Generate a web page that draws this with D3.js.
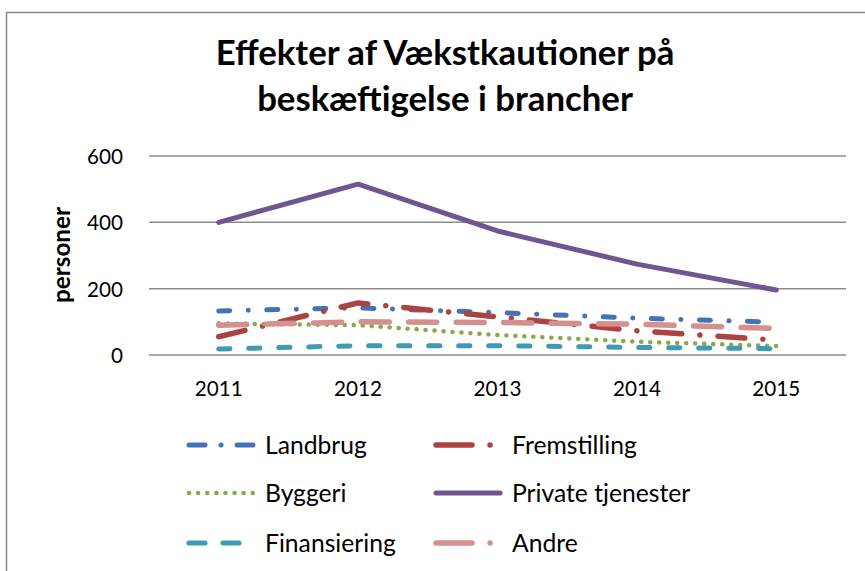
<!DOCTYPE html>
<html><head><meta charset="utf-8">
<script src="https://cdn.jsdelivr.net/npm/d3@7"></script>
<style>body{margin:0;background:#fff}svg{display:block}</style>
</head><body>
<script>
const years = ["2011","2012","2013","2014","2015"];
const yTicks = [0,200,400,600];
const landbrug = [133,142,128,111,99];
const fremstilling = [55,157,115,73,45];
const byggeri = [95,90,60,40,27];
const privateTjenester = [400,515,374,274,196];
const finansiering = [18,28,28,23,19];
const andre = [90,100,98,93,80];

const series = [
  {name:"Landbrug", values:landbrug, color:"#4572B0", dash:"11,18.5,0.1,18.5", w:5},
  {name:"Fremstilling", values:fremstilling, color:"#AA4341", dash:"27,18,0.1,18", w:5.5},
  {name:"Byggeri", values:byggeri, color:"#8BA84C", dash:"0.1,8.9", w:4.5},
  {name:"Private tjenester", values:privateTjenester, color:"#6F5592", dash:null, w:5},
  {name:"Finansiering", values:finansiering, color:"#3F9AB3", dash:"11.3,18.7", w:5},
  {name:"Andre", values:andre, color:"#D48F8E", dash:"28,19.5", w:5.5}
];
const legendDash = {
  "Landbrug":"16,16,0.1,16",
  "Fremstilling":"36,18,0.1,18",
  "Byggeri":"0.1,9",
  "Private tjenester":null,
  "Finansiering":"16,18",
  "Andre":"36,18,0.1,18"
};

const W=865,H=571;
const svg=d3.select("body").append("svg").attr("width",W).attr("height",H);
const font="Lato, 'Open Sans', sans-serif";
svg.append("rect").attr("x",6.5).attr("y",12.5).attr("width",W).attr("height",H)
  .attr("fill","#fff").attr("stroke","#888").attr("stroke-width",1.5);

// fit font size so a sample string matches a given width
function fitSize(sample, weight, targetW){
  const t=svg.append("text").attr("font-family",font).attr("font-weight",weight)
    .attr("font-size",100).text(sample);
  const w=t.node().getComputedTextLength(); t.remove();
  return 100*targetW/w;
}
const tickSize=fitSize("2011","normal",48);
const legSize=fitSize("Landbrug","normal",102);
const titleSize=fitSize("Effekter af Vækstkautioner på","bold",459);
const axTitleSize=fitSize("personer","bold",96);

const x=d3.scaleBand().domain(years).range([149,846]);
const y=d3.scaleLinear().domain([0,600]).range([355,156]);

svg.append("g").selectAll("line").data(yTicks).join("line")
  .attr("x1",149).attr("x2",846).attr("y1",d=>y(d)).attr("y2",d=>y(d))
  .attr("stroke","#8c8c8c").attr("stroke-width",1.5);

const yAxis=d3.axisLeft(y).tickValues(yTicks).tickSize(0).tickPadding(0);
const ya=svg.append("g").attr("transform","translate(123,0)").call(yAxis);
ya.select(".domain").remove();
ya.selectAll("text").attr("font-family",font).attr("font-size",tickSize).attr("fill","#000").attr("dy","0.36em");

const xAxis=d3.axisBottom(x).tickSize(0).tickPadding(0);
const xa=svg.append("g").attr("transform","translate(0,381)").call(xAxis);
xa.select(".domain").remove();
xa.selectAll("text").attr("font-family",font).attr("font-size",tickSize).attr("fill","#000").attr("dy","0.72em");

svg.append("text").attr("transform","translate(70,255) rotate(-90)")
  .attr("text-anchor","middle").attr("font-family",font).attr("font-weight","bold")
  .attr("font-size",axTitleSize).text("personer");

const title=svg.append("text").attr("text-anchor","middle").attr("font-family",font)
  .attr("font-weight","bold").attr("font-size",titleSize);
title.append("tspan").attr("x",445).attr("y",65).text("Effekter af Vækstkautioner på");
title.append("tspan").attr("x",445).attr("y",111).text("beskæftigelse i brancher");

const line=d3.line().x((d,i)=>x(years[i])+x.bandwidth()/2).y(d=>y(d));
series.forEach(s=>{
  svg.append("path").attr("d",line(s.values)).attr("fill","none")
    .attr("stroke",s.color).attr("stroke-width",s.w).attr("stroke-linecap","round")
    .attr("stroke-linejoin","round").attr("stroke-dasharray",s.dash);
});

const legPos=[[189,445],[436,445],[189,493],[436,493],[189,543],[436,543]];
series.forEach((s,i)=>{
  const [lx,ly]=legPos[i];
  svg.append("line").attr("x1",lx).attr("x2",lx+64).attr("y1",ly).attr("y2",ly)
    .attr("stroke",s.color).attr("stroke-width",s.w).attr("stroke-linecap","round")
    .attr("stroke-dasharray",legendDash[s.name]);
  svg.append("text").attr("x",lx+76).attr("y",ly).attr("dy","0.36em")
    .attr("font-family",font).attr("font-size",legSize).text(s.name);
});
</script>
</body></html>
